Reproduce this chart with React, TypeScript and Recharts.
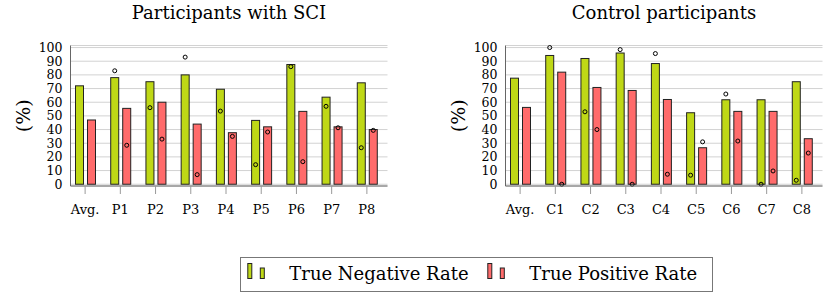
import { BarChart, Bar, XAxis, YAxis, CartesianGrid } from 'recharts'

const sciLabels = ['Avg.', 'P1', 'P2', 'P3', 'P4', 'P5', 'P6', 'P7', 'P8']
const sciTnr = [72, 78, 75, 80, 69.5, 46.7, 87.6, 63.7, 74.2]
const sciTpr = [47, 55.5, 60, 44, 37.7, 42, 53.3, 42, 40]
const sciTnrMark = [null, 83, 56, 93, 53.5, 14.3, 86, 57, 26.7]
const sciTprMark = [null, 28.5, 33, 7, 35, 38.2, 16.5, 41.3, 39.4]

const ctlLabels = ['Avg.', 'C1', 'C2', 'C3', 'C4', 'C5', 'C6', 'C7', 'C8']
const ctlTnr = [77.6, 94.2, 92, 96, 88.3, 52.3, 61.8, 61.8, 75]
const ctlTpr = [56.2, 82, 70.8, 68.6, 62, 26.7, 53.3, 53.3, 33.3]
const ctlTnrMark = [null, 100, 53, 98.5, 95.6, 6.6, 66, 0, 2.9]
const ctlTprMark = [null, 0, 40, 0, 7.3, 31, 31.6, 9.7, 22.8]

const yTicks = [0, 10, 20, 30, 40, 50, 60, 70, 80, 90, 100]

const FONT = '"DejaVu Serif", serif'
const GREEN = '#bfd816'
const RED = '#ff6b6b'
const BAR_STROKE = '#222'
const FRAME = '#666'
const GRID = '#d2d2d2'
const TICK = '#9a9a9a'

type Row = { name: string; tnr: number; tpr: number; tnrMark: number | null; tprMark: number | null }

function buildRows(labels: string[], tnr: number[], tpr: number[], tnrMark: (number | null)[], tprMark: (number | null)[]): Row[] {
  return labels.map((name, i) => ({ name, tnr: tnr[i], tpr: tpr[i], tnrMark: tnrMark[i], tprMark: tprMark[i] }))
}

// bar rect plus the hollow circle marker, placed with the bar's own scale
function MarkedBar(props: any) {
  const { x, y, width, height, fill, payload, valueKey, markKey } = props
  const value = payload[valueKey]
  const mark = payload[markKey]
  const base = y + height
  const cy = mark == null || !value ? null : base - (mark * height) / value
  return (
    <g>
      <rect x={x} y={y} width={width} height={height} fill={fill} stroke={BAR_STROKE} strokeWidth={1} />
      {cy != null && <circle cx={x + width / 2} cy={cy} r={2} fill="none" stroke="#000" strokeWidth={1} />}
    </g>
  )
}

function PercentLabel(props: any) {
  const { viewBox } = props
  const cx = viewBox.x + 12.5
  const cy = viewBox.y + viewBox.height / 2
  return (
    <text
      x={cx}
      y={cy}
      transform={`rotate(-90, ${cx}, ${cy})`}
      textAnchor="middle"
      dominantBaseline="central"
      fontFamily={FONT}
      fontSize={19}
      fill="#000"
    >
      (%)
    </text>
  )
}

function Panel({ title, rows, left }: { title: string; rows: Row[]; left: number }) {
  return (
    <div style={{ position: 'absolute', left, top: 0, width: 400, height: 240 }}>
      <div
        style={{
          position: 'absolute',
          left: 79,
          top: 4,
          width: 300,
          textAlign: 'center',
          fontFamily: FONT,
          fontSize: 18,
          lineHeight: '18px',
          color: '#000',
          whiteSpace: 'nowrap',
        }}
      >
        {title}
      </div>
      <BarChart
        width={400}
        height={240}
        data={rows}
        margin={{ top: 45.5, right: 12.5, left: 10.5, bottom: 0 }}
        barSize={8}
        barGap={4}
      >
        <CartesianGrid vertical={false} stroke={GRID} />
        <XAxis
          dataKey="name"
          height={54}
          interval={0}
          tickSize={8}
          tickMargin={11}
          tickLine={{ stroke: TICK }}
          axisLine={{ stroke: FRAME }}
          tick={{ fontFamily: FONT, fontSize: 13, fill: '#000' }}
          padding={{ left: -3, right: 3 }}
        />
        <XAxis xAxisId="top" orientation="top" height={0} tick={false} tickLine={false} axisLine={{ stroke: FRAME }} />
        <YAxis
          width={60}
          domain={[-1.3, 101.5]}
          ticks={yTicks}
          interval={0}
          tickLine={false}
          axisLine={{ stroke: FRAME }}
          tick={{ fontFamily: FONT, fontSize: 12.5, fill: '#000' }}
          label={{ content: <PercentLabel /> }}
        />
        <YAxis yAxisId="right" orientation="right" width={0} tick={false} tickLine={false} axisLine={{ stroke: FRAME }} />
        <Bar
          dataKey="tnr"
          fill={GREEN}
          isAnimationActive={false}
          shape={(p: any) => <MarkedBar {...p} valueKey="tnr" markKey="tnrMark" />}
        />
        <Bar
          dataKey="tpr"
          fill={RED}
          isAnimationActive={false}
          shape={(p: any) => <MarkedBar {...p} valueKey="tpr" markKey="tprMark" />}
        />
      </BarChart>
    </div>
  )
}

function LegendBox() {
  const items = [
    { label: 'True Negative Rate', color: GREEN, x: 7.8, tx: 49.3 },
    { label: 'True Positive Rate', color: RED, x: 247.8, tx: 289.3 },
  ]
  return (
    <svg width={473} height={35} style={{ position: 'absolute', left: 240, top: 257 }}>
      <rect x={0.5} y={0.5} width={472} height={34} fill="#fff" stroke="#777" />
      {items.map(it => (
        <g key={it.label}>
          <rect x={it.x} y={6.5} width={4} height={15} fill={it.color} stroke={BAR_STROKE} />
          <rect x={it.x + 12.5} y={11} width={4} height={10.5} fill={it.color} stroke={BAR_STROKE} />
          <text x={it.tx} y={23} fontFamily={FONT} fontSize={18} fill="#000">
            {it.label}
          </text>
        </g>
      ))}
    </svg>
  )
}

export default function App() {
  const sciRows = buildRows(sciLabels, sciTnr, sciTpr, sciTnrMark, sciTprMark)
  const ctlRows = buildRows(ctlLabels, ctlTnr, ctlTpr, ctlTnrMark, ctlTprMark)
  return (
    <div style={{ position: 'absolute', left: 0, top: 0, width: 831, height: 293, background: '#fff' }}>
      <Panel title="Participants with SCI" rows={sciRows} left={0} />
      <Panel title="Control participants" rows={ctlRows} left={435} />
      <LegendBox />
    </div>
  )
}
